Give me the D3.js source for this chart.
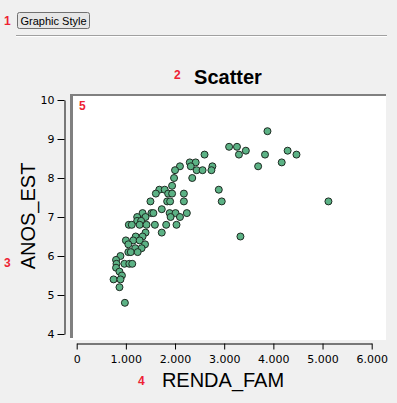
<!DOCTYPE html>
<html>
<head>
<meta charset="utf-8">
<script src="https://cdn.jsdelivr.net/npm/d3@7"></script>
<style>
  body { margin: 0; background: #f0f0f0; }
  svg { display: block; }
</style>
</head>
<body>
<script>
// RENDA_FAM values (x) and ANOS_EST values (y)
var rendaFam = [3880, 3100, 3260, 3440, 4290, 3300, 3830, 4470, 4170, 3690,
    2760, 2740, 2890, 2950, 5120, 3330, 2600, 2300, 2420, 2100,
    2320, 2000, 2440, 2560, 1980, 2350, 1940, 1680, 1790, 1610,
    1860, 1940, 2180, 1500, 1840, 1900, 2180, 1730, 1340, 1520,
    1560, 1890, 2010, 2240, 1230, 1400, 1910, 2100, 1230, 1310,
    1060, 1120, 1280, 1420, 1590, 1820, 2030, 1400, 1730, 1200,
    1340, 1000, 1150, 1280, 1390, 1050, 1190, 1320, 1050, 1100,
    1240, 890, 800, 810, 970, 1070, 1130, 800, 870, 920,
    750, 890, 870, 980];
var anosEst = [9.2, 8.8, 8.8, 8.7, 8.7, 8.6, 8.6, 8.6, 8.4, 8.3,
    8.3, 8.2, 7.7, 7.4, 7.4, 6.5, 8.6, 8.4, 8.4, 8.3,
    8.3, 8.2, 8.2, 8.2, 8.0, 8.0, 7.8, 7.7, 7.7, 7.6,
    7.6, 7.6, 7.6, 7.4, 7.4, 7.4, 7.4, 7.2, 7.1, 7.1,
    7.1, 7.1, 7.1, 7.1, 7.0, 7.0, 7.0, 7.0, 6.9, 6.9,
    6.8, 6.8, 6.8, 6.8, 6.8, 6.8, 6.8, 6.6, 6.6, 6.5,
    6.5, 6.4, 6.4, 6.4, 6.3, 6.3, 6.2, 6.2, 6.1, 6.1,
    6.1, 6.0, 5.9, 5.8, 5.8, 5.8, 5.8, 5.7, 5.6, 5.5,
    5.4, 5.4, 5.2, 4.8];

var xTicks = [0, 1000, 2000, 3000, 4000, 5000, 6000];
var yTicks = [4, 5, 6, 7, 8, 9, 10];
var markers = [
    {t: "1", x: 4, y: 25},
    {t: "2", x: 174, y: 79},
    {t: "3", x: 4, y: 267},
    {t: "4", x: 138, y: 385},
    {t: "5", x: 79, y: 110}
];

var width = 397, height = 403;

var svg = d3.select("body").append("svg")
    .attr("width", width)
    .attr("height", height);

svg.append("rect")
    .attr("width", width).attr("height", height)
    .attr("fill", "#f0f0f0");

// toolbar button
var btn = svg.append("g");
btn.append("rect")
    .attr("x", 17.5).attr("y", 12.5)
    .attr("width", 72).attr("height", 16)
    .attr("rx", 2)
    .attr("fill", "#e6e6e6")
    .attr("stroke", "#707070");
btn.append("text")
    .attr("x", 53.5).attr("y", 24.5)
    .attr("text-anchor", "middle")
    .style("font-family", "Liberation Sans, Arial, sans-serif")
    .style("font-size", "11px")
    .attr("fill", "#000")
    .text("Graphic Style");

// separator
svg.append("line")
    .attr("x1", 16).attr("x2", 387)
    .attr("y1", 35.5).attr("y2", 35.5)
    .attr("stroke", "#a0a0a0");
svg.append("line")
    .attr("x1", 16).attr("x2", 387)
    .attr("y1", 36.5).attr("y2", 36.5)
    .attr("stroke", "#ffffff");

// setup scales
var xScale = d3.scaleLinear().domain([0, 6000]).range([76.7, 371.7]);
var yScale = d3.scaleLinear().domain([4, 10]).range([334, 100]);

// plot area
svg.append("rect")
    .attr("x", 70).attr("y", 94)
    .attr("width", 316).attr("height", 246)
    .attr("fill", "#ffffff");
svg.append("line")
    .attr("x1", 71.5).attr("x2", 71.5)
    .attr("y1", 94).attr("y2", 338)
    .attr("stroke", "#808080").attr("stroke-width", 3);
svg.append("line")
    .attr("x1", 70).attr("x2", 386)
    .attr("y1", 95).attr("y2", 95)
    .attr("stroke", "#808080").attr("stroke-width", 2);

var tickFont = "DejaVu Sans, Verdana, sans-serif";

// x-axis
var xAxis = d3.axisBottom(xScale)
    .tickValues(xTicks)
    .tickSize(6)
    .tickSizeOuter(0)
    .tickFormat(function (d) { return d === 0 ? "0" : d3.format(",")(d).replace(",", "."); });
var xMinor = d3.axisBottom(xScale)
    .tickValues(d3.range(0, 6001, 200))
    .tickSize(3)
    .tickSizeOuter(0)
    .tickFormat("");

var gx = svg.append("g")
    .attr("class", "x axis")
    .attr("transform", "translate(0,343.5)");
gx.call(xMinor);
gx.call(xAxis);
gx.selectAll("text")
    .attr("y", 12)
    .style("font-family", tickFont)
    .style("font-size", "11px")
    .attr("fill", "#000");

// y-axis
var yAxis = d3.axisLeft(yScale)
    .tickValues(yTicks)
    .tickSize(7)
    .tickSizeOuter(0)
    .tickFormat(d3.format("d"));
var yMinor = d3.axisLeft(yScale)
    .tickValues(d3.range(4, 10.01, 0.2))
    .tickSize(4)
    .tickSizeOuter(0)
    .tickFormat("");

var gy = svg.append("g")
    .attr("class", "y axis")
    .attr("transform", "translate(64.5,0)");
gy.call(yMinor);
gy.call(yAxis);
gy.selectAll("text")
    .attr("x", -10)
    .style("font-family", tickFont)
    .style("font-size", "11px")
    .attr("fill", "#000");

svg.selectAll(".axis path, .axis line").attr("stroke", "#000");

// title and axis labels
svg.append("text")
    .attr("x", 228).attr("y", 84)
    .attr("text-anchor", "middle")
    .style("font-family", "Liberation Sans, Arial, sans-serif")
    .style("font-size", "20px")
    .style("font-weight", "bold")
    .text("Scatter");

svg.append("text")
    .attr("transform", "translate(35,216) rotate(-90)")
    .attr("text-anchor", "middle")
    .style("font-family", "Liberation Sans, Arial, sans-serif")
    .style("font-size", "20px")
    .text("ANOS_EST");

svg.append("text")
    .attr("x", 223).attr("y", 387)
    .attr("text-anchor", "middle")
    .style("font-family", "Liberation Sans, Arial, sans-serif")
    .style("font-size", "20px")
    .text("RENDA_FAM");

// draw dots
var data = rendaFam.map(function (d, i) { return {x: d, y: anosEst[i]}; });
svg.selectAll(".dot")
    .data(data)
    .enter().append("circle")
    .attr("class", "dot")
    .attr("r", 3.5)
    .attr("cx", function (d) { return xScale(d.x); })
    .attr("cy", function (d) { return yScale(d.y); })
    .attr("fill", "#5cb285")
    .attr("stroke", "#1e2a22")
    .attr("stroke-width", 1);

// red region markers
svg.selectAll(".marker")
    .data(markers)
    .enter().append("text")
    .attr("class", "marker")
    .attr("x", function (d) { return d.x; })
    .attr("y", function (d) { return d.y; })
    .style("font-family", "Liberation Sans, Arial, sans-serif")
    .style("font-size", "12px")
    .style("font-weight", "bold")
    .attr("fill", "#ee2233")
    .text(function (d) { return d.t; });
</script>
</body>
</html>
